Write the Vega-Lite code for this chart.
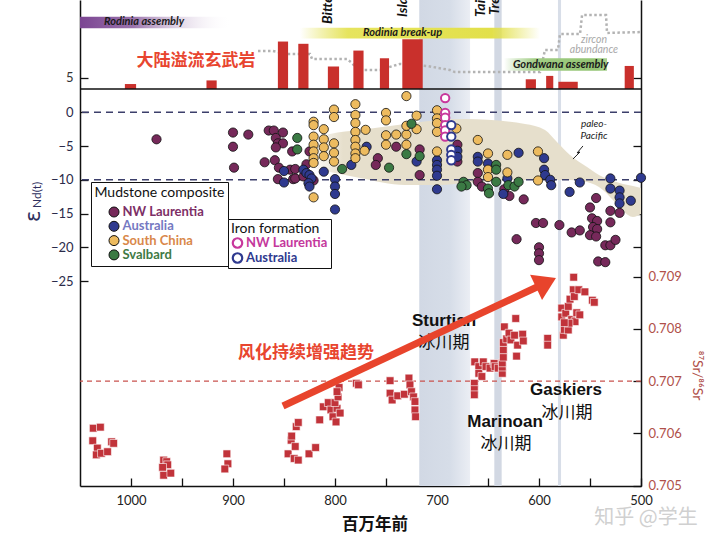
{
"$schema":"https://vega.github.io/schema/vega-lite/v6.json",
"width":561,"height":486,
"autosize":{"type":"none"},
"padding":{"left":80,"top":0,"right":79,"bottom":59},
"background":"white",
"config":{"view":{"stroke":null},"font":"Lato","axis":{"labelFont":"Lato","titleFont":"Lato","labelFontSize":13,"domainColor":"#111","domainWidth":1.5,"tickColor":"#111","tickWidth":1.3,"grid":false}},
"resolve":{"scale":{"y":"independent"},"axis":{"x":"independent"}},
"layer":[
{"data":{"values":[{}]},"mark":{"type":"rect","fill":{"gradient":"linear","stops":[{"offset":0,"color":"#d1d8e4"},{"offset":0.6,"color":"#d6dde8"},{"offset":1,"color":"#ebeef4"}]}},
 "encoding":{"x":{"datum":717.4,"type":"quantitative","scale":{"domain":[1050,500],"nice":false,"zero":false},"axis":{"orient":"bottom","values":[950,850,750,650,550],"labels":false,"domain":false,"tickSize":-8,"title":null}},"x2":{"datum":667.6}}},
{"data":{"values":[{}]},"mark":{"type":"rect","fill":"#d2d8e3"},
 "encoding":{"x":{"datum":643.8,"type":"quantitative","scale":{"domain":[1050,500],"nice":false,"zero":false},"axis":null},"x2":{"datum":636.6}}},
{"data":{"values":[{}]},"mark":{"type":"rect","fill":"#d8dee8"},
 "encoding":{"x":{"datum":581.4,"type":"quantitative","scale":{"domain":[1050,500],"nice":false,"zero":false},"axis":null},"x2":{"datum":578.4}}},
{"data":{"values":[
{"age":824.5,"hi":-4.1,"lo":-8.25},{"age":804.9,"hi":-3.21,"lo":-8.84},{"age":775.5,"hi":-2.62,"lo":-9.73},{"age":731.4,"hi":-1.73,"lo":-10.76},{"age":697.1,"hi":-1.14,"lo":-10.76},{"age":672.5,"hi":-0.99,"lo":-10.47},{"age":613.7,"hi":-1.73,"lo":-10.03},{"age":594.1,"hi":-2.62,"lo":-10.03},{"age":582.4,"hi":-4.4,"lo":-10.03},{"age":569.6,"hi":-6.33,"lo":-10.03},{"age":552.9,"hi":-8.1,"lo":-10.33},{"age":537.3,"hi":-9.59,"lo":-11.51},{"age":527.5,"hi":-10.18,"lo":-13.0},{"age":517.6,"hi":-10.62,"lo":-14.62},{"age":507.8,"hi":-10.92,"lo":-15.51},{"age":500,"hi":-11.21,"lo":-15.07}]},
 "mark":{"type":"area","interpolate":"monotone","fill":{"gradient":"linear","x1":0,"x2":1,"y1":0,"y2":0,"stops":[{"offset":0,"color":"rgba(230,222,203,0)"},{"offset":0.1,"color":"#e6dfcc"},{"offset":1,"color":"#e6dfcc"}]}},
 "encoding":{"x":{"field":"age","type":"quantitative","scale":{"domain":[1050,500],"nice":false,"zero":false},"axis":null},"y":{"field":"hi","type":"quantitative","scale":{"domain":[-55.363,16.637],"nice":false,"zero":false},"axis":null},"y2":{"field":"lo"}}},
{"data":{"values":[{}]},"mark":{"type":"rect","fill":{"gradient":"linear","stops":[{"offset":0,"color":"#7b4592"},{"offset":0.35,"color":"#9a73ac"},{"offset":1,"color":"rgba(255,255,255,0)"}]}},
 "encoding":{"x":{"datum":1050,"type":"quantitative","scale":{"domain":[1050,500],"nice":false,"zero":false},"axis":null},"x2":{"datum":901},"y":{"datum":32.0,"type":"quantitative","scale":{"domain":[-175.66,39.38],"nice":false,"zero":false},"axis":null},"y2":{"datum":26.86}}},
{"data":{"values":[{}]},"mark":{"type":"rect","fill":{"gradient":"linear","stops":[{"offset":0,"color":"rgba(226,224,70,0)"},{"offset":0.2,"color":"#e6e45e"},{"offset":0.8,"color":"#e2e04a"},{"offset":1,"color":"rgba(226,224,70,0)"}]}},
 "encoding":{"x":{"datum":834.3,"type":"quantitative","scale":{"domain":[1050,500],"nice":false,"zero":false},"axis":null},"x2":{"datum":599.0},"y":{"datum":27.1,"type":"quantitative","scale":{"domain":[-175.66,39.38],"nice":false,"zero":false},"axis":null},"y2":{"datum":22.3}}},
{"data":{"values":[
{"age":875.5,"z":16.8},{"age":860.8,"z":16.8},{"age":846.1,"z":15.5},{"age":824.5,"z":15.5},{"age":822.5,"z":13.3},{"age":788.2,"z":13.3},{"age":783.3,"z":11.5},{"age":777.5,"z":8.4},{"age":755.9,"z":8.4},{"age":743.1,"z":10.2},{"age":736.3,"z":11.1},{"age":709.8,"z":10.2},{"age":687.3,"z":8.4},{"age":682.4,"z":7.5},{"age":599.0,"z":7.5},{"age":594.1,"z":17.3},{"age":581.4,"z":17.3},{"age":579.4,"z":24.3},{"age":559.8,"z":24.3},{"age":557.8,"z":32.7},{"age":534.3,"z":32.7},{"age":533.3,"z":24.8},{"age":500,"z":25.2}]},
 "mark":{"type":"line","color":"#b3b3b3","strokeWidth":2.5,"strokeDash":[2.5,2.5]},
 "encoding":{"x":{"field":"age","type":"quantitative","scale":{"domain":[1050,500],"nice":false,"zero":false},"axis":null},"y":{"field":"z","type":"quantitative","scale":{"domain":[-175.66,39.38],"nice":false,"zero":false},"axis":null}}},
{"data":{"values":[{}]},"mark":{"type":"rect","fill":{"gradient":"linear","stops":[{"offset":0,"color":"rgba(150,200,120,0)"},{"offset":0.3,"color":"#a2cd85"},{"offset":0.9,"color":"#93c473"},{"offset":1,"color":"#a9d291"}]}},
 "encoding":{"x":{"datum":634.3,"type":"quantitative","scale":{"domain":[1050,500],"nice":false,"zero":false},"axis":null},"x2":{"datum":533.3},"y":{"datum":13.6,"type":"quantitative","scale":{"domain":[-175.66,39.38],"nice":false,"zero":false},"axis":null},"y2":{"datum":8.1}}},
{"data":{"values":[
{"start":1006,"end":995,"n":2.2},{"start":926,"end":916,"n":3.8},{"start":856,"end":846,"n":21},{"start":836,"end":826,"n":20},{"start":807,"end":796,"n":10},{"start":782,"end":772,"n":17},{"start":756,"end":747,"n":13.6},{"start":734,"end":714,"n":22},{"start":613,"end":603,"n":4.3},{"start":593,"end":586,"n":5.8},{"start":581,"end":562,"n":3.2},{"start":516,"end":507,"n":10.2}]},
 "mark":{"type":"rect","color":"#c9302c"},
 "encoding":{"x":{"field":"start","type":"quantitative","scale":{"domain":[1050,500],"nice":false,"zero":false},
   "axis":{"orient":"bottom","values":[1000,900,800,700,600,500],"format":"d","tickSize":-8,"labelPadding":16,"labelFlush":false,"labelOverlap":false,"title":null,"labelColor":"#222"}},
  "x2":{"field":"end"},
  "y":{"field":"n","type":"quantitative","scale":{"domain":[-175.66,39.38],"nice":false,"zero":false},"axis":{"orient":"left","values":[5],"tickSize":-8,"labelPadding":15,"domain":false,"title":null,"labelColor":"#333"}},
  "y2":{"datum":0}}},
{"data":{"values":[{}]},"mark":{"type":"rule","color":"#111","strokeWidth":1.5},
 "encoding":{"y":{"datum":0,"type":"quantitative","scale":{"domain":[-175.66,39.38],"nice":false,"zero":false},"axis":{"orient":"right","values":[5],"tickSize":-8,"labels":false,"domain":false,"title":null}}}},
{"data":{"values":[{"e":0},{"e":-10}]},"mark":{"type":"rule","color":"#3c3f6b","strokeWidth":1.5,"strokeDash":[7,5]},
 "encoding":{"y":{"field":"e","type":"quantitative","scale":{"domain":[-55.363,16.637],"nice":false,"zero":false},"axis":{"orient":"right","values":[-5,-10,-15,-20],"tickSize":-8,"labels":false,"domain":false,"title":null}}}},
{"data":{"values":[
{"age":975,"eps":-4.0,"region":"NW Laurentia"},{"age":900,"eps":-3.0,"region":"NW Laurentia"},{"age":900,"eps":-5.1,"region":"NW Laurentia"},{"age":899,"eps":-8.2,"region":"NW Laurentia"},{"age":885,"eps":-3.3,"region":"NW Laurentia"},{"age":865,"eps":-2.7,"region":"NW Laurentia"},{"age":860,"eps":-2.7,"region":"NW Laurentia"},{"age":851,"eps":-3.0,"region":"NW Laurentia"},{"age":858,"eps":-3.8,"region":"NW Laurentia"},{"age":856,"eps":-4.6,"region":"NW Laurentia"},{"age":851,"eps":-4.6,"region":"NW Laurentia"},{"age":858,"eps":-5.2,"region":"NW Laurentia"},{"age":842,"eps":-5.8,"region":"NW Laurentia"},{"age":869,"eps":-7.4,"region":"NW Laurentia"},{"age":859,"eps":-7.1,"region":"NW Laurentia"},{"age":855,"eps":-8.2,"region":"NW Laurentia"},{"age":844,"eps":-8.5,"region":"NW Laurentia"},{"age":856,"eps":-9.9,"region":"NW Laurentia"},{"age":841,"eps":-9.9,"region":"NW Laurentia"},{"age":839,"eps":-8.4,"region":"NW Laurentia"},{"age":839,"eps":-9.8,"region":"NW Laurentia"},{"age":831,"eps":-9.5,"region":"NW Laurentia"},{"age":825,"eps":-5.8,"region":"NW Laurentia"},{"age":821,"eps":-10.1,"region":"NW Laurentia"},{"age":828,"eps":-7.7,"region":"NW Laurentia"},{"age":758,"eps":-6.8,"region":"NW Laurentia"},{"age":760,"eps":-7.8,"region":"NW Laurentia"},{"age":740,"eps":-5.1,"region":"NW Laurentia"},{"age":717,"eps":-5.5,"region":"NW Laurentia"},{"age":717,"eps":-9.3,"region":"NW Laurentia"},{"age":680,"eps":-4.8,"region":"NW Laurentia"},{"age":680,"eps":-7.3,"region":"NW Laurentia"},{"age":660,"eps":-9.0,"region":"NW Laurentia"},{"age":660,"eps":-10.3,"region":"NW Laurentia"},{"age":656,"eps":-11.0,"region":"NW Laurentia"},{"age":634,"eps":-11.4,"region":"NW Laurentia"},{"age":629,"eps":-12.4,"region":"NW Laurentia"},{"age":615,"eps":-12.9,"region":"NW Laurentia"},{"age":622,"eps":-18.8,"region":"NW Laurentia"},{"age":603,"eps":-16.4,"region":"NW Laurentia"},{"age":596,"eps":-16.4,"region":"NW Laurentia"},{"age":580,"eps":-16.7,"region":"NW Laurentia"},{"age":600,"eps":-20.0,"region":"NW Laurentia"},{"age":600,"eps":-20.9,"region":"NW Laurentia"},{"age":600,"eps":-21.9,"region":"NW Laurentia"},{"age":568,"eps":-17.8,"region":"NW Laurentia"},{"age":560,"eps":-17.5,"region":"NW Laurentia"},{"age":544,"eps":-12.7,"region":"NW Laurentia"},{"age":550,"eps":-14.1,"region":"NW Laurentia"},{"age":548,"eps":-15.7,"region":"NW Laurentia"},{"age":543,"eps":-16.1,"region":"NW Laurentia"},{"age":547,"eps":-17.0,"region":"NW Laurentia"},{"age":543,"eps":-17.3,"region":"NW Laurentia"},{"age":550,"eps":-18.2,"region":"NW Laurentia"},{"age":544,"eps":-18.4,"region":"NW Laurentia"},{"age":530,"eps":-14.6,"region":"NW Laurentia"},{"age":530,"eps":-16.3,"region":"NW Laurentia"},{"age":521,"eps":-14.9,"region":"NW Laurentia"},{"age":535,"eps":-19.7,"region":"NW Laurentia"},{"age":530,"eps":-19.7,"region":"NW Laurentia"},{"age":525,"eps":-18.9,"region":"NW Laurentia"},{"age":542,"eps":-22.1,"region":"NW Laurentia"},{"age":535,"eps":-22.2,"region":"NW Laurentia"},
{"age":850,"eps":-8.7,"region":"Australia"},{"age":850,"eps":-10.4,"region":"Australia"},{"age":831,"eps":-8.5,"region":"Australia"},{"age":828,"eps":-9.0,"region":"Australia"},{"age":825,"eps":-9.3,"region":"Australia"},{"age":823,"eps":-9.8,"region":"Australia"},{"age":826,"eps":-10.5,"region":"Australia"},{"age":825,"eps":-11.0,"region":"Australia"},{"age":811,"eps":-8.8,"region":"Australia"},{"age":800,"eps":-9.9,"region":"Australia"},{"age":800,"eps":-11.0,"region":"Australia"},{"age":800,"eps":-12.1,"region":"Australia"},{"age":800,"eps":-14.4,"region":"Australia"},{"age":784,"eps":-7.8,"region":"Australia"},{"age":769,"eps":-5.1,"region":"Australia"},{"age":720,"eps":-7.3,"region":"Australia"},{"age":700,"eps":-7.1,"region":"Australia"},{"age":700,"eps":-7.8,"region":"Australia"},{"age":700,"eps":-8.5,"region":"Australia"},{"age":700,"eps":-9.4,"region":"Australia"},{"age":700,"eps":-11.4,"region":"Australia"},{"age":680,"eps":-5.7,"region":"Australia"},{"age":680,"eps":-6.6,"region":"Australia"},{"age":660,"eps":-6.6,"region":"Australia"},{"age":660,"eps":-7.3,"region":"Australia"},{"age":650,"eps":-7.6,"region":"Australia"},{"age":631,"eps":-9.8,"region":"Australia"},{"age":635,"eps":-12.1,"region":"Australia"},{"age":620,"eps":-6.0,"region":"Australia"},{"age":595,"eps":-6.8,"region":"Australia"},{"age":595,"eps":-8.5,"region":"Australia"},{"age":594,"eps":-9.3,"region":"Australia"},{"age":589,"eps":-10.0,"region":"Australia"},{"age":588,"eps":-10.8,"region":"Australia"},{"age":570,"eps":-11.8,"region":"Australia"},{"age":560,"eps":-10.4,"region":"Australia"},{"age":530,"eps":-9.8,"region":"Australia"},{"age":530,"eps":-11.3,"region":"Australia"},{"age":521,"eps":-11.6,"region":"Australia"},{"age":521,"eps":-12.6,"region":"Australia"},{"age":521,"eps":-13.5,"region":"Australia"},{"age":510,"eps":-13.1,"region":"Australia"},{"age":500,"eps":-9.7,"region":"Australia"},
{"age":821,"eps":-1.4,"region":"South China"},{"age":821,"eps":-1.9,"region":"South China"},{"age":821,"eps":-3.6,"region":"South China"},{"age":821,"eps":-4.8,"region":"South China"},{"age":821,"eps":-5.8,"region":"South China"},{"age":821,"eps":-6.8,"region":"South China"},{"age":821,"eps":-7.5,"region":"South China"},{"age":821,"eps":-12.6,"region":"South China"},{"age":811,"eps":-2.5,"region":"South China"},{"age":811,"eps":-4.0,"region":"South China"},{"age":811,"eps":-5.2,"region":"South China"},{"age":811,"eps":-6.5,"region":"South China"},{"age":801,"eps":0.4,"region":"South China"},{"age":801,"eps":-0.7,"region":"South China"},{"age":801,"eps":-4.6,"region":"South China"},{"age":801,"eps":-6.0,"region":"South China"},{"age":801,"eps":-7.3,"region":"South China"},{"age":780,"eps":1.2,"region":"South China"},{"age":780,"eps":-0.4,"region":"South China"},{"age":780,"eps":-1.6,"region":"South China"},{"age":780,"eps":-2.9,"region":"South China"},{"age":780,"eps":-4.1,"region":"South China"},{"age":780,"eps":-5.1,"region":"South China"},{"age":780,"eps":-6.1,"region":"South China"},{"age":780,"eps":-6.8,"region":"South China"},{"age":770,"eps":-2.6,"region":"South China"},{"age":771,"eps":-5.7,"region":"South China"},{"age":750,"eps":-0.1,"region":"South China"},{"age":750,"eps":-1.2,"region":"South China"},{"age":750,"eps":-3.4,"region":"South China"},{"age":750,"eps":-4.8,"region":"South China"},{"age":740,"eps":-3.3,"region":"South China"},{"age":730,"eps":-3.3,"region":"South China"},{"age":730,"eps":-4.8,"region":"South China"},{"age":730,"eps":2.4,"region":"South China"},{"age":720,"eps":-0.5,"region":"South China"},{"age":720,"eps":-2.5,"region":"South China"},{"age":730,"eps":-2.0,"region":"South China"},{"age":700,"eps":0.3,"region":"South China"},{"age":700,"eps":-0.9,"region":"South China"},{"age":700,"eps":-1.6,"region":"South China"},{"age":700,"eps":-2.9,"region":"South China"},{"age":681,"eps":-2.4,"region":"South China"},{"age":700,"eps":-5.8,"region":"South China"},{"age":660,"eps":-4.1,"region":"South China"},{"age":650,"eps":-6.1,"region":"South China"},{"age":631,"eps":-6.3,"region":"South China"},{"age":650,"eps":-8.5,"region":"South China"},{"age":631,"eps":-8.9,"region":"South China"},{"age":650,"eps":-9.6,"region":"South China"},{"age":601,"eps":-5.8,"region":"South China"},{"age":601,"eps":-10.1,"region":"South China"},
{"age":837,"eps":-3.8,"region":"Svalbard"},{"age":837,"eps":-5.5,"region":"Svalbard"},{"age":793,"eps":-8.4,"region":"Svalbard"},{"age":747,"eps":-8.2,"region":"Svalbard"},{"age":730,"eps":-6.2,"region":"Svalbard"},{"age":725,"eps":-1.7,"region":"Svalbard"},{"age":717,"eps":-6.5,"region":"Svalbard"},{"age":674,"eps":-10.3,"region":"Svalbard"},{"age":671,"eps":-10.8,"region":"Svalbard"},{"age":676,"eps":-11.0,"region":"Svalbard"},{"age":650,"eps":-11.3,"region":"Svalbard"},{"age":649,"eps":-12.0,"region":"Svalbard"},{"age":642,"eps":-7.8,"region":"Svalbard"},{"age":642,"eps":-8.5,"region":"Svalbard"},{"age":642,"eps":-10.3,"region":"Svalbard"},{"age":630,"eps":-10.8,"region":"Svalbard"},{"age":624,"eps":-11.0,"region":"Svalbard"},{"age":620,"eps":-10.3,"region":"Svalbard"}]},
 "mark":{"type":"point","shape":"circle","filled":true,"size":85,"stroke":"#111","strokeWidth":0.8,"opacity":1},
 "encoding":{"x":{"field":"age","type":"quantitative","scale":{"domain":[1050,500],"nice":false,"zero":false},"axis":null},
  "y":{"field":"eps","type":"quantitative","scale":{"domain":[-55.363,16.637],"nice":false,"zero":false},"axis":{"orient":"left","values":[0,-5,-10,-15,-20,-25],"tickSize":-8,"labelPadding":15,"title":null,"labelColor":"#2b2b4a"}},
  "fill":{"field":"region","type":"nominal","scale":{"domain":["NW Laurentia","Australia","South China","Svalbard"],"range":["#76295a","#2f3a8f","#edbb5f","#3b7a44"]},
   "legend":{"title":"Mudstone composite","orient":"none","legendX":11,"legendY":182,"strokeColor":"#111","fillColor":"white","padding":3.5,"titleFont":"Lato","titleFontSize":14,"titleFontWeight":"normal","titleColor":"#111","titlePadding":6,"labelFont":"Lato","labelFontSize":13,"labelFontWeight":"bold","labelOffset":2,"symbolSize":100,"symbolStrokeColor":"#111","symbolStrokeWidth":1,"symbolOffset":13,"rowPadding":0.3,"clipHeight":13,
    "labelColor":{"expr":"datum.label === 'NW Laurentia' ? '#7d2f66' : datum.label === 'Australia' ? '#7579c2' : datum.label === 'South China' ? '#d9884a' : '#3f7a45'"}}}}},
{"data":{"values":[
{"age":692,"eps":2.1,"region":"NW Laurentia"},{"age":692,"eps":-0.1,"region":"NW Laurentia"},{"age":692,"eps":-0.8,"region":"NW Laurentia"},{"age":692,"eps":-1.9,"region":"NW Laurentia"},{"age":692,"eps":-2.7,"region":"NW Laurentia"},{"age":692,"eps":-3.6,"region":"NW Laurentia"},
{"age":686,"eps":-1.9,"region":"Australia"},{"age":686,"eps":-3.6,"region":"Australia"},{"age":686,"eps":-5.5,"region":"Australia"},{"age":686,"eps":-6.3,"region":"Australia"},{"age":686,"eps":-7.1,"region":"Australia"}]},
 "mark":{"type":"point","shape":"circle","fill":"white","strokeWidth":2,"size":70,"opacity":1},
 "encoding":{"x":{"field":"age","type":"quantitative","scale":{"domain":[1050,500],"nice":false,"zero":false},"axis":null},
  "y":{"field":"eps","type":"quantitative","scale":{"domain":[-55.363,16.637],"nice":false,"zero":false},"axis":null},
  "stroke":{"field":"region","type":"nominal","scale":{"domain":["NW Laurentia","Australia"],"range":["#c8389c","#2f3a8f"]},
   "legend":{"title":"Iron formation","orient":"none","legendX":148,"legendY":219,"strokeColor":"#111","fillColor":"white","padding":3,"titleFont":"Lato","titleFontSize":14,"titleFontWeight":"normal","titleColor":"#111","titlePadding":0,"labelFont":"Lato","labelFontSize":13,"labelFontWeight":"bold","labelOffset":2,"symbolSize":90,"symbolFillColor":"white","symbolStrokeWidth":2.2,"symbolType":"circle","rowPadding":1,"clipHeight":14,
    "labelColor":{"expr":"datum.label === 'NW Laurentia' ? '#c4389c' : '#2f3a8f'"}}}}},
{"data":{"values":[{}]},"mark":{"type":"rule","color":"#c9534f","strokeWidth":1.2,"strokeDash":[5,4]},
 "encoding":{"y":{"datum":0.707,"type":"quantitative","scale":{"domain":[0.704994,0.714296],"nice":false,"zero":false},"axis":null}}},
{"data":{"values":[
{"age":1037,"sr":0.70610},{"age":1030,"sr":0.70612},{"age":1037.5,"sr":0.70586},{"age":1033,"sr":0.70572},{"age":1034,"sr":0.70559},{"age":1029,"sr":0.70562},{"age":1023,"sr":0.70565},{"age":1019,"sr":0.70584},{"age":1017,"sr":0.70581},{"age":968,"sr":0.70549},{"age":965,"sr":0.70546},{"age":964,"sr":0.70540},{"age":969,"sr":0.70535},{"age":968,"sr":0.70520},{"age":961,"sr":0.70524},{"age":906,"sr":0.70561},{"age":905,"sr":0.70542},{"age":908,"sr":0.70532},{"age":846,"sr":0.70561},{"age":843,"sr":0.70587},{"age":842.5,"sr":0.70595},{"age":839,"sr":0.70575},{"age":838,"sr":0.70613},{"age":836,"sr":0.70621},{"age":840,"sr":0.70552},{"age":836,"sr":0.70549},{"age":825.5,"sr":0.70561},{"age":819,"sr":0.70573},{"age":815,"sr":0.70626},{"age":811.5,"sr":0.70651},{"age":806.6,"sr":0.70659},{"age":804,"sr":0.70645},{"age":798,"sr":0.70648},{"age":800,"sr":0.70659},{"age":797,"sr":0.70670},{"age":796,"sr":0.70688},{"age":802,"sr":0.70632},{"age":799,"sr":0.70622},{"age":795,"sr":0.70639},{"age":779,"sr":0.70696},{"age":798,"sr":0.70680},{"age":777,"sr":0.70693},{"age":746,"sr":0.70701},{"age":746,"sr":0.70677},{"age":744,"sr":0.70664},{"age":738.5,"sr":0.70672},{"age":732,"sr":0.70675},{"age":727.5,"sr":0.70706},{"age":726.5,"sr":0.70693},{"age":725,"sr":0.70680},{"age":723,"sr":0.70670},{"age":721.6,"sr":0.70661},{"age":721.6,"sr":0.70645},{"age":721,"sr":0.70632},{"age":663,"sr":0.70737},{"age":659,"sr":0.70728},{"age":654.6,"sr":0.70737},{"age":659,"sr":0.70715},{"age":656,"sr":0.70709},{"age":663.4,"sr":0.70696},{"age":663.4,"sr":0.70684},{"age":663.4,"sr":0.70674},{"age":652,"sr":0.70728},{"age":648,"sr":0.70725},{"age":644,"sr":0.70734},{"age":643,"sr":0.70728},{"age":640,"sr":0.70725},{"age":636,"sr":0.70715},{"age":636,"sr":0.70727},{"age":636,"sr":0.70735},{"age":635,"sr":0.70746},{"age":635,"sr":0.70760},{"age":635,"sr":0.70774},{"age":634,"sr":0.70804},{"age":631.7,"sr":0.70781},{"age":629.4,"sr":0.70792},{"age":627.5,"sr":0.70779},{"age":624,"sr":0.70788},{"age":622.8,"sr":0.70820},{"age":621,"sr":0.70769},{"age":622,"sr":0.70748},{"age":616,"sr":0.70790},{"age":615.4,"sr":0.70777},{"age":591.5,"sr":0.70782},{"age":591.5,"sr":0.70769},{"age":577.7,"sr":0.70840},{"age":577.7,"sr":0.70823},{"age":576.2,"sr":0.70788},{"age":575.2,"sr":0.70799},{"age":573.8,"sr":0.70830},{"age":571.3,"sr":0.70843},{"age":569.6,"sr":0.70857},{"age":568,"sr":0.70818},{"age":566.4,"sr":0.70875},{"age":565.4,"sr":0.70862},{"age":566,"sr":0.70899},{"age":563,"sr":0.70831},{"age":564.7,"sr":0.70814},{"age":571.3,"sr":0.70798},{"age":570.6,"sr":0.70811},{"age":560,"sr":0.70827},{"age":561,"sr":0.70875},{"age":555,"sr":0.70871},{"age":547.7,"sr":0.70855},{"age":545.8,"sr":0.70851},{"age":575.2,"sr":0.70812}]},
 "mark":{"type":"point","shape":"square","filled":true,"size":60,"color":"#c1333a","stroke":"white","strokeWidth":0.6,"opacity":1},
 "encoding":{"x":{"field":"age","type":"quantitative","scale":{"domain":[1050,500],"nice":false,"zero":false},"axis":null},
  "y":{"field":"sr","type":"quantitative","scale":{"domain":[0.704994,0.714296],"nice":false,"zero":false},
   "axis":{"orient":"right","values":[0.705,0.706,0.707,0.708,0.709],"format":".3f","tickSize":-8,"labelPadding":15,"labelColor":"#b0504a","title":"⁸⁷Sr/⁸⁶Sr","titleColor":"#b0504a","titleFontSize":14,"titleFontWeight":"normal","titleAngle":90,"titleY":375,"titlePadding":8}}}},
{"data":{"values":[{}]},"mark":{"type":"text","text":"大陆溢流玄武岩","font":"Noto Sans CJK SC","fontSize":17,"fontWeight":"bold","color":"#e8452f"},
 "encoding":{"x":{"datum":936.3,"type":"quantitative","scale":{"domain":[1050,500],"nice":false,"zero":false},"axis":null},"y":{"datum":7.6,"type":"quantitative","scale":{"domain":[-55.363,16.637],"nice":false,"zero":false},"axis":null}}},
{"data":{"values":[{}]},"mark":{"type":"text","text":"风化持续增强趋势","font":"Noto Sans CJK SC","fontSize":17,"fontWeight":"bold","color":"#e8452f"},
 "encoding":{"x":{"datum":828.4,"type":"quantitative","scale":{"domain":[1050,500],"nice":false,"zero":false},"axis":null},"y":{"datum":-35.66,"type":"quantitative","scale":{"domain":[-55.363,16.637],"nice":false,"zero":false},"axis":null}}},
{"data":{"values":[{}]},"mark":{"type":"text","text":"Sturtian","font":"Liberation Sans","fontSize":17,"fontWeight":"bold","color":"#111"},
 "encoding":{"x":{"datum":693.1,"type":"quantitative","scale":{"domain":[1050,500],"nice":false,"zero":false},"axis":null},"y":{"datum":-30.9,"type":"quantitative","scale":{"domain":[-55.363,16.637],"nice":false,"zero":false},"axis":null}}},
{"data":{"values":[{}]},"mark":{"type":"text","text":"冰川期","font":"Noto Sans CJK SC","fontSize":17,"color":"#111"},
 "encoding":{"x":{"datum":693.1,"type":"quantitative","scale":{"domain":[1050,500],"nice":false,"zero":false},"axis":null},"y":{"datum":-34.2,"type":"quantitative","scale":{"domain":[-55.363,16.637],"nice":false,"zero":false},"axis":null}}},
{"data":{"values":[{}]},"mark":{"type":"text","text":"Marinoan","font":"Liberation Sans","fontSize":17,"fontWeight":"bold","color":"#111"},
 "encoding":{"x":{"datum":633.3,"type":"quantitative","scale":{"domain":[1050,500],"nice":false,"zero":false},"axis":null},"y":{"datum":-45.85,"type":"quantitative","scale":{"domain":[-55.363,16.637],"nice":false,"zero":false},"axis":null}}},
{"data":{"values":[{}]},"mark":{"type":"text","text":"冰川期","font":"Noto Sans CJK SC","fontSize":17,"color":"#111"},
 "encoding":{"x":{"datum":632.4,"type":"quantitative","scale":{"domain":[1050,500],"nice":false,"zero":false},"axis":null},"y":{"datum":-49.15,"type":"quantitative","scale":{"domain":[-55.363,16.637],"nice":false,"zero":false},"axis":null}}},
{"data":{"values":[{}]},"mark":{"type":"text","text":"Gaskiers","font":"Liberation Sans","fontSize":17,"fontWeight":"bold","color":"#111"},
 "encoding":{"x":{"datum":573.5,"type":"quantitative","scale":{"domain":[1050,500],"nice":false,"zero":false},"axis":null},"y":{"datum":-41.15,"type":"quantitative","scale":{"domain":[-55.363,16.637],"nice":false,"zero":false},"axis":null}}},
{"data":{"values":[{}]},"mark":{"type":"text","text":"冰川期","font":"Noto Sans CJK SC","fontSize":17,"color":"#111"},
 "encoding":{"x":{"datum":572.5,"type":"quantitative","scale":{"domain":[1050,500],"nice":false,"zero":false},"axis":null},"y":{"datum":-44.55,"type":"quantitative","scale":{"domain":[-55.363,16.637],"nice":false,"zero":false},"axis":null}}},
{"data":{"values":[{}]},"mark":{"type":"rule","color":"#e8442c","strokeWidth":7},
 "encoding":{"x":{"datum":851.0,"type":"quantitative","scale":{"domain":[1050,500],"nice":false,"zero":false},"axis":null},"x2":{"datum":601.96},"y":{"datum":-43.51,"type":"quantitative","scale":{"domain":[-55.363,16.637],"nice":false,"zero":false},"axis":null},"y2":{"datum":-25.88}}},
{"data":{"values":[{}]},"mark":{"type":"point","shape":"M0,-1L1,0.57L-1,0.57Z","filled":true,"color":"#e8442c","size":784,"angle":64.7,"opacity":1,"strokeWidth":0},
 "encoding":{"x":{"datum":595.8,"type":"quantitative","scale":{"domain":[1050,500],"nice":false,"zero":false},"axis":null},"y":{"datum":-25.44,"type":"quantitative","scale":{"domain":[-55.363,16.637],"nice":false,"zero":false},"axis":null}}},
{"data":{"values":[{}]},"mark":{"type":"text","text":"Rodinia assembly","font":"Lato","fontSize":11,"fontWeight":"bold","fontStyle":"italic","color":"#1a1a1a","align":"left"},
 "encoding":{"x":{"datum":1026.5,"type":"quantitative","scale":{"domain":[1050,500],"nice":false,"zero":false},"axis":null},"y":{"datum":29.5,"type":"quantitative","scale":{"domain":[-175.66,39.38],"nice":false,"zero":false},"axis":null}}},
{"data":{"values":[{}]},"mark":{"type":"text","text":"Rodinia break-up","font":"Lato","fontSize":11,"fontWeight":"bold","fontStyle":"italic","color":"#1a1a1a","align":"left"},
 "encoding":{"x":{"datum":772.5,"type":"quantitative","scale":{"domain":[1050,500],"nice":false,"zero":false},"axis":null},"y":{"datum":24.65,"type":"quantitative","scale":{"domain":[-175.66,39.38],"nice":false,"zero":false},"axis":null}}},
{"data":{"values":[{}]},"mark":{"type":"text","text":"Gondwana assembly","font":"Lato","fontSize":11,"fontWeight":"bold","fontStyle":"italic","color":"#1a1a1a","align":"left"},
 "encoding":{"x":{"datum":625.5,"type":"quantitative","scale":{"domain":[1050,500],"nice":false,"zero":false},"axis":null},"y":{"datum":10.84,"type":"quantitative","scale":{"domain":[-175.66,39.38],"nice":false,"zero":false},"axis":null}}},
{"data":{"values":[{}]},"mark":{"type":"text","text":"zircon","font":"Lato","fontSize":10.5,"fontStyle":"italic","color":"#a8a8a8"},
 "encoding":{"x":{"datum":546.1,"type":"quantitative","scale":{"domain":[1050,500],"nice":false,"zero":false},"axis":null},"y":{"datum":21.9,"type":"quantitative","scale":{"domain":[-175.66,39.38],"nice":false,"zero":false},"axis":null}}},
{"data":{"values":[{}]},"mark":{"type":"text","text":"abundance","font":"Lato","fontSize":10.5,"fontStyle":"italic","color":"#a8a8a8"},
 "encoding":{"x":{"datum":546.1,"type":"quantitative","scale":{"domain":[1050,500],"nice":false,"zero":false},"axis":null},"y":{"datum":17.1,"type":"quantitative","scale":{"domain":[-175.66,39.38],"nice":false,"zero":false},"axis":null}}},
{"data":{"values":[{}]},"mark":{"type":"text","text":"Bitter Springs","font":"Lato","fontSize":14,"fontWeight":"bold","fontStyle":"italic","color":"#111","angle":270,"align":"left","baseline":"middle"},
 "encoding":{"x":{"datum":806.9,"type":"quantitative","scale":{"domain":[1050,500],"nice":false,"zero":false},"axis":null},"y":{"datum":28.76,"type":"quantitative","scale":{"domain":[-175.66,39.38],"nice":false,"zero":false},"axis":null}}},
{"data":{"values":[{}]},"mark":{"type":"text","text":"Islay","font":"Lato","fontSize":14,"fontWeight":"bold","fontStyle":"italic","color":"#111","angle":270,"align":"left","baseline":"middle"},
 "encoding":{"x":{"datum":733.3,"type":"quantitative","scale":{"domain":[1050,500],"nice":false,"zero":false},"axis":null},"y":{"datum":31.86,"type":"quantitative","scale":{"domain":[-175.66,39.38],"nice":false,"zero":false},"axis":null}}},
{"data":{"values":[{}]},"mark":{"type":"text","text":"Taishir","font":"Lato","fontSize":14,"fontWeight":"bold","fontStyle":"italic","color":"#111","angle":270,"align":"left","baseline":"middle"},
 "encoding":{"x":{"datum":656.9,"type":"quantitative","scale":{"domain":[1050,500],"nice":false,"zero":false},"axis":null},"y":{"datum":31.9,"type":"quantitative","scale":{"domain":[-175.66,39.38],"nice":false,"zero":false},"axis":null}}},
{"data":{"values":[{}]},"mark":{"type":"text","text":"Trezona","font":"Lato","fontSize":14,"fontWeight":"bold","fontStyle":"italic","color":"#111","angle":270,"align":"left","baseline":"middle"},
 "encoding":{"x":{"datum":643.1,"type":"quantitative","scale":{"domain":[1050,500],"nice":false,"zero":false},"axis":null},"y":{"datum":32.7,"type":"quantitative","scale":{"domain":[-175.66,39.38],"nice":false,"zero":false},"axis":null}}},
{"data":{"values":[{}]},"mark":{"type":"text","text":"paleo-","font":"Lato","fontSize":10,"fontStyle":"italic","color":"#222"},
 "encoding":{"x":{"datum":546.1,"type":"quantitative","scale":{"domain":[1050,500],"nice":false,"zero":false},"axis":null},"y":{"datum":-1.8,"type":"quantitative","scale":{"domain":[-55.363,16.637],"nice":false,"zero":false},"axis":null}}},
{"data":{"values":[{}]},"mark":{"type":"text","text":"Pacific","font":"Lato","fontSize":10,"fontStyle":"italic","color":"#222"},
 "encoding":{"x":{"datum":546.1,"type":"quantitative","scale":{"domain":[1050,500],"nice":false,"zero":false},"axis":null},"y":{"datum":-3.45,"type":"quantitative","scale":{"domain":[-55.363,16.637],"nice":false,"zero":false},"axis":null}}},
{"data":{"values":[{"age":556.9,"eps":-4.99,"k":1},{"age":562.7,"eps":-6.03,"k":2},{"age":559.8,"eps":-5.88,"k":3},{"age":566.7,"eps":-6.92,"k":4}]},
 "mark":{"type":"line","color":"#222","strokeWidth":1},
 "encoding":{"x":{"field":"age","type":"quantitative","scale":{"domain":[1050,500],"nice":false,"zero":false},"axis":null},"y":{"field":"eps","type":"quantitative","scale":{"domain":[-55.363,16.637],"nice":false,"zero":false},"axis":null},"order":{"field":"k"}}},
{"data":{"values":[{}]},"mark":{"type":"text","text":"百万年前","font":"Noto Sans CJK SC","fontSize":16.5,"fontWeight":"bold","color":"#111"},
 "encoding":{"x":{"datum":760.8,"type":"quantitative","scale":{"domain":[1050,500],"nice":false,"zero":false},"axis":null},"y":{"datum":-61.14,"type":"quantitative","scale":{"domain":[-55.363,16.637],"nice":false,"zero":false},"axis":null}}},
{"data":{"values":[{}]},"mark":{"type":"text","text":"ε","font":"DejaVu Sans","fontSize":21,"color":"#2e2f5e","angle":270,"align":"left","baseline":"middle"},
 "encoding":{"x":{"datum":1095.1,"type":"quantitative","scale":{"domain":[1050,500],"nice":false,"zero":false},"axis":null},"y":{"datum":-16.25,"type":"quantitative","scale":{"domain":[-55.363,16.637],"nice":false,"zero":false},"axis":null}}},
{"data":{"values":[{}]},"mark":{"type":"text","text":"Nd(t)","font":"Lato","fontSize":12,"color":"#2e2f5e","angle":270,"align":"left","baseline":"middle"},
 "encoding":{"x":{"datum":1092.2,"type":"quantitative","scale":{"domain":[1050,500],"nice":false,"zero":false},"axis":null},"y":{"datum":-14.18,"type":"quantitative","scale":{"domain":[-55.363,16.637],"nice":false,"zero":false},"axis":null}}},
{"data":{"values":[{}]},"mark":{"type":"text","text":"知乎 @学生","font":"Noto Sans CJK SC","fontSize":20,"color":"#d0d0d0"},
 "encoding":{"x":{"datum":495.1,"type":"quantitative","scale":{"domain":[1050,500],"nice":false,"zero":false},"axis":null},"y":{"datum":-60.1,"type":"quantitative","scale":{"domain":[-55.363,16.637],"nice":false,"zero":false},"axis":null}}}
]
}
